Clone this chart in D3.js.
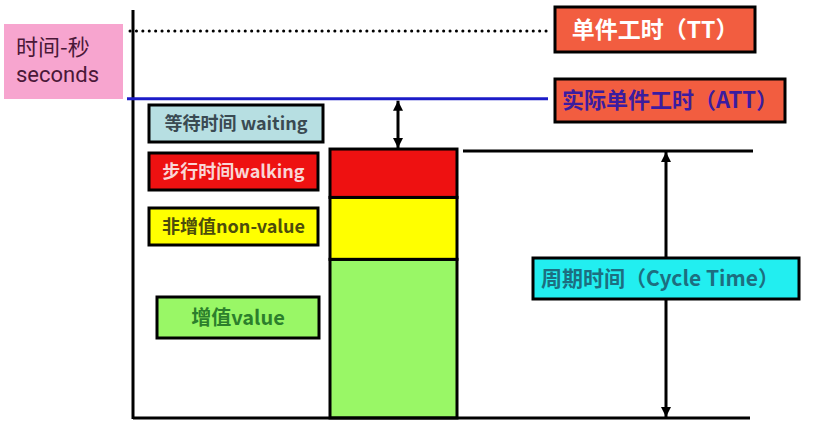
<!DOCTYPE html>
<html>
<head>
<meta charset="utf-8">
<script src="https://cdn.jsdelivr.net/npm/d3@7"></script>
<style>
    body { margin: 0; background: #fff; }
    svg { display: block; font-family: "Noto Sans CJK SC", "Noto Sans", sans-serif; }
</style>
</head>
<body>
<div id="chart"></div>
<script>
// one station, stacked time components (seconds)
const categories = ['工位'];
const segmentKeys = ['value', 'nonValue', 'walking'];
const segmentValues = [41, 16, 12.5];
const segmentLabels = ['增值value', '非增值non-value', '步行时间walking'];
const waitingLabel = '等待时间 waiting';
const taktTime = 100;
const actualTaktTime = 82.5;
const taktLabel = '单件工时（TT）';
const actualTaktLabel = '实际单件工时（ATT）';
const cycleLabel = '周期时间（Cycle Time）';
const axisLabel = ['时间-秒', 'seconds'];

class TaktChart {
    constructor(selector) {
        this.selector = selector;
        this.init();
    }

    init() {
        this.svg = d3.select(this.selector).append('svg')
            .attr('width', 823)
            .attr('height', 421);

        this.x = d3.scaleBand()
            .domain(categories)
            .range([330, 457])
            .padding(0);

        this.y = d3.scaleLinear()
            .domain([0, taktTime])
            .range([418, 31]);

        const defs = this.svg.append('defs');
        ['start', 'end'].forEach(k => {
            defs.append('marker')
                .attr('id', `arrow-${k}`)
                .attr('viewBox', '0 0 10 10')
                .attr('refX', k === 'end' ? 10 : 0)
                .attr('refY', 5)
                .attr('markerWidth', 10)
                .attr('markerHeight', 10)
                .attr('markerUnits', 'userSpaceOnUse')
                .attr('orient', 'auto')
                .append('path')
                .attr('d', k === 'end' ? 'M0,0L10,5L0,10Z' : 'M10,0L0,5L10,10Z')
                .attr('fill', '#000');
        });

        this.createBars();
        this.createAxes();
        this.createReferenceLines();
        this.createLegend();
    }

    createAxes() {
        // y axis line and baseline
        this.svg.append('line')
            .attr('x1', 133).attr('x2', 133)
            .attr('y1', 10).attr('y2', this.y(0) + 1)
            .attr('stroke', '#000').attr('stroke-width', 3);
        this.svg.append('line')
            .attr('x1', 133).attr('x2', 750)
            .attr('y1', this.y(0)).attr('y2', this.y(0))
            .attr('stroke', '#000').attr('stroke-width', 3);

        // axis title box
        const g = this.svg.append('g');
        g.append('rect')
            .attr('x', 4).attr('y', 24)
            .attr('width', 119).attr('height', 75)
            .attr('fill', '#f7a5cf');
        g.selectAll('text')
            .data(axisLabel)
            .enter()
            .append('text')
            .attr('x', 16)
            .attr('y', (d, i) => 55 + i * 27)
            .attr('fill', '#4a1838')
            .style('font-family', (d, i) => i ? 'Roboto, sans-serif' : null)
            .style('font-size', '22px')
            .text(d => d);
    }

    createBars() {
        let acc = 0;
        const stacked = segmentValues.map((v, i) => {
            const d = { key: segmentKeys[i], y0: acc, y1: acc + v };
            acc += v;
            return d;
        });
        this.cycleTime = acc;
        const colors = { value: '#99f766', nonValue: '#ffff00', walking: '#ee1111' };

        this.svg.append('g')
            .selectAll('rect')
            .data(stacked)
            .enter()
            .append('rect')
            .attr('x', this.x(categories[0]))
            .attr('width', this.x.bandwidth())
            .attr('y', d => this.y(d.y1))
            .attr('height', d => this.y(d.y0) - this.y(d.y1))
            .attr('fill', d => colors[d.key])
            .attr('stroke', '#000')
            .attr('stroke-width', 3);
    }

    createReferenceLines() {
        const yTT = this.y(taktTime);
        const yATT = this.y(actualTaktTime);
        const yCT = this.y(this.cycleTime);

        // TT dotted line
        this.svg.append('line')
            .attr('x1', 130).attr('x2', 548)
            .attr('y1', yTT).attr('y2', yTT)
            .attr('stroke', '#000')
            .attr('stroke-width', 3)
            .attr('stroke-linecap', 'round')
            .attr('stroke-dasharray', '0.1 6.3');

        // ATT line
        this.svg.append('line')
            .attr('x1', 127).attr('x2', 548)
            .attr('y1', yATT).attr('y2', yATT)
            .attr('stroke', '#1c1cc8')
            .attr('stroke-width', 3);

        // cycle time top line
        this.svg.append('line')
            .attr('x1', 463).attr('x2', 753)
            .attr('y1', yCT + 2).attr('y2', yCT + 2)
            .attr('stroke', '#000')
            .attr('stroke-width', 3);

        // waiting arrow
        this.svg.append('line')
            .attr('x1', 398).attr('x2', 398)
            .attr('y1', yATT + 2).attr('y2', yCT - 1)
            .attr('stroke', '#000')
            .attr('stroke-width', 3)
            .attr('marker-start', 'url(#arrow-start)')
            .attr('marker-end', 'url(#arrow-end)');

        // cycle time arrow
        this.svg.append('line')
            .attr('x1', 666).attr('x2', 666)
            .attr('y1', yCT + 3).attr('y2', this.y(0) - 1)
            .attr('stroke', '#000')
            .attr('stroke-width', 3)
            .attr('marker-start', 'url(#arrow-start)')
            .attr('marker-end', 'url(#arrow-end)');

        // labels on the right
        this.labelBox(555, 7, 200, 45, '#f25d40', taktLabel, '#ffffff', '23px');
        this.labelBox(555, 79, 230, 43, '#f25d40', actualTaktLabel, '#3b1ca0', '22px');
        this.labelBox(533, 258, 266, 41, '#22eef0', cycleLabel, '#1d6e80', '21px', -6);
    }

    labelBox(x, y, w, h, fill, label, color, size, dx = 0) {
        const g = this.svg.append('g');
        g.append('rect')
            .attr('x', x).attr('y', y)
            .attr('width', w).attr('height', h)
            .attr('fill', fill)
            .attr('stroke', '#000')
            .attr('stroke-width', 3);
        g.append('text')
            .attr('x', x + w / 2 + dx)
            .attr('y', y + h / 2)
            .attr('dy', '0.36em')
            .attr('text-anchor', 'middle')
            .attr('fill', color)
            .style('font-size', size)
            .style('font-weight', 'bold')
            .text(label);
    }

    createLegend() {
        const items = [
            { label: waitingLabel, fill: '#b7dfe2', color: '#3a4a52', x: 149, y: 105, w: 174, h: 37, size: '18px' },
            { label: segmentLabels[2], fill: '#ee1111', color: '#f9d6d6', x: 149, y: 153, w: 169, h: 37, size: '18px' },
            { label: segmentLabels[1], fill: '#ffff00', color: '#4c4c0c', x: 149, y: 208, w: 169, h: 37, size: '18px' },
            { label: segmentLabels[0], fill: '#99f766', color: '#2c7f2c', x: 157, y: 297, w: 162, h: 41, size: '20px' }
        ];
        items.forEach(d => this.labelBox(d.x, d.y, d.w, d.h, d.fill, d.label, d.color, d.size));
    }
}

new TaktChart('#chart');
</script>
</body>
</html>
